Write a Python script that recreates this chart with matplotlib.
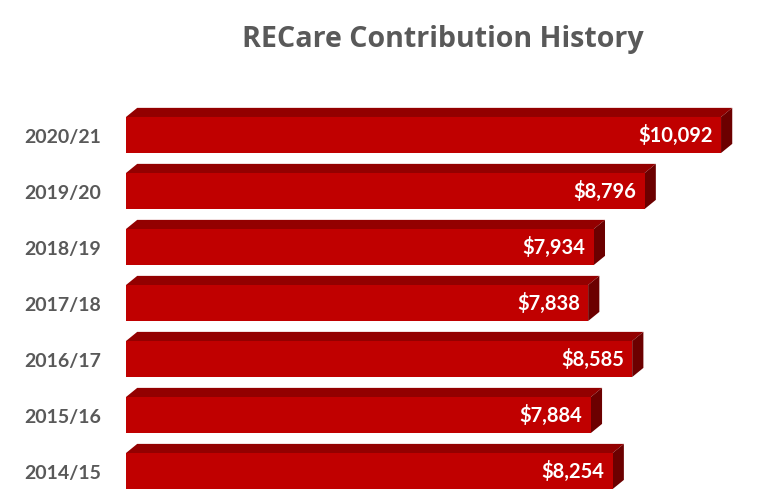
import matplotlib.pyplot as plt
from matplotlib.patches import Polygon

years = ['2014/15', '2015/16', '2016/17', '2017/18', '2018/19', '2019/20', '2020/21']
amounts = [8254, 7884, 8585, 7838, 7934, 8796, 10092]
title = 'RECare Contribution History'

front_col = '#c00000'
top_col = '#930000'
side_col = '#6c0000'
text_grey = '#595959'

plt.rcParams['font.family'] = ['Lato', 'DejaVu Sans']

fig = plt.figure(figsize=(7.8, 5.03), dpi=100)
ax = fig.add_axes([126 / 780, 0, 654 / 780, 423 / 503])
ax.set_xlim(0, 11092)
ax.set_ylim(-0.571, 6.982)
ax.axis('off')

bar_h = 0.643
dx = 190   # depth offset in $ units
dy = 0.163  # depth offset in category units

ypos = list(range(len(years)))
ax.barh(ypos, amounts, height=bar_h, color=front_col, zorder=3)

for y, v in zip(ypos, amounts):
    top = y + bar_h / 2
    bot = y - bar_h / 2
    ax.add_patch(Polygon([(0, top), (v, top), (v + dx, top + dy), (dx, top + dy)],
                         closed=True, facecolor=top_col, edgecolor='none', zorder=2))
    ax.add_patch(Polygon([(v, top), (v + dx, top + dy), (v + dx, bot + dy), (v, bot)],
                         closed=True, facecolor=side_col, edgecolor='none', zorder=2))
    ax.text(v - 140, y, f'${v:,}', ha='right', va='center', color='white',
            fontsize=14.5, fontweight='bold', zorder=4)
    ax.text(-430, y - 0.04, years[ypos.index(y)], ha='right', va='center', color=text_grey,
            fontsize=14, fontweight='bold')

fig.text(442.5 / 780, 1 - 47 / 503, title, ha='center', va='baseline', color=text_grey,
         fontsize=20.6, fontweight='bold', family=['Open Sans', 'DejaVu Sans'])

fig.savefig('out.png', dpi=100)
